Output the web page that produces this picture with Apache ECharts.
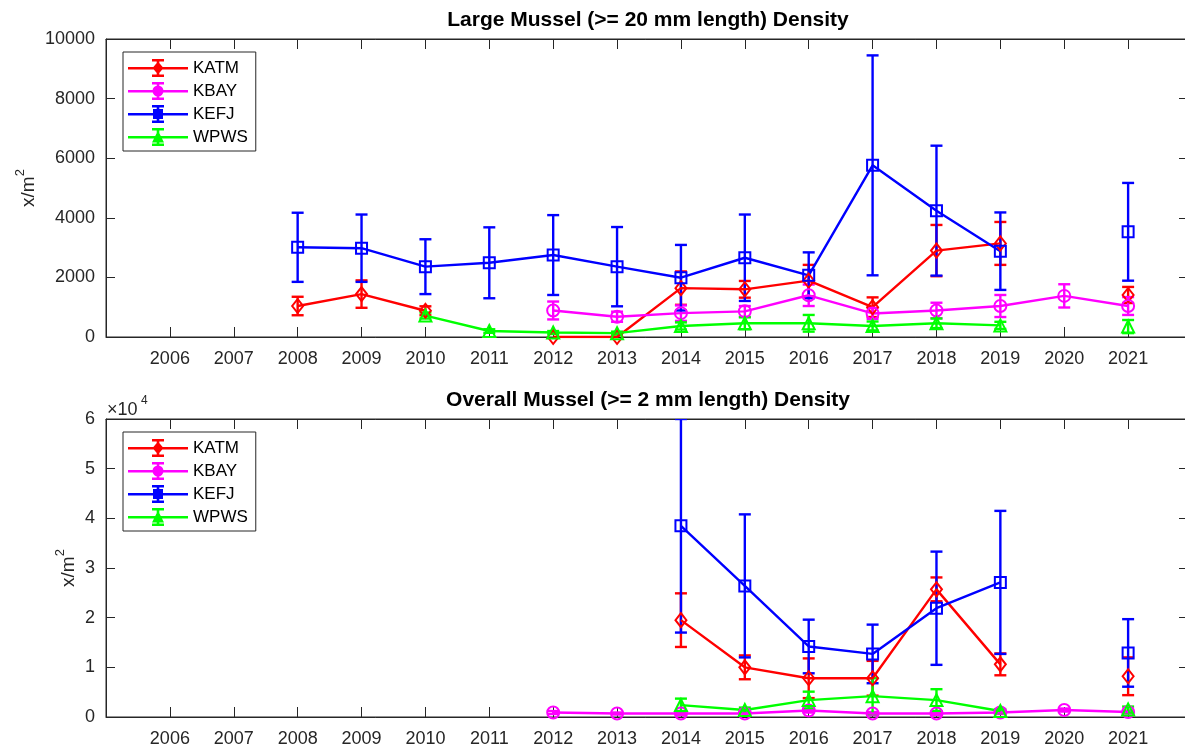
<!DOCTYPE html>
<html>
<head>
<meta charset="utf-8">
<title>Mussel Density</title>
<script src="https://cdn.jsdelivr.net/npm/echarts@6/dist/echarts.min.js"></script>
<style>
  html, body { margin: 0; padding: 0; background: #fff; }
  #main { width: 1185px; height: 750px; }
</style>
</head>
<body>
<div id="main"></div>
<script>
// years on the x axis, and the tick labels shown
const years = [2006, 2007, 2008, 2009, 2010, 2011, 2012, 2013, 2014, 2015, 2016, 2017, 2018, 2019, 2020, 2021]
const yearTicks = ['2006', '2007', '2008', '2009', '2010', '2011', '2012', '2013', '2014', '2015', '2016', '2017', '2018', '2019', '2020', '2021']
const sites = ['KATM', 'KBAY', 'KEFJ', 'WPWS']

// Large mussel (>= 20 mm) density, x/m2, with error bar half widths
const largeKATM = [null, null, 1040, 1440, 880, null, 0, 0, 1640, 1600, 1890, 1000, 2900, 3140, null, 1410]
const largeKATMErr = [null, null, 310, 460, 150, null, 0, 0, 560, 280, 530, 330, 860, 720, null, 270]
const largeKBAY = [null, null, null, null, null, null, 890, 680, 800, 860, 1400, 790, 890, 1040, 1380, 1040]
const largeKBAYErr = [null, null, null, null, null, null, 300, 170, 260, 180, 360, 180, 260, 370, 390, 300]
const largeKEFJ = [null, null, 3010, 2980, 2360, 2490, 2750, 2360, 1990, 2660, 2070, 5760, 4240, 2880, null, 3530]
const largeKEFJErr = [null, null, 1160, 1130, 920, 1190, 1340, 1330, 1100, 1450, 770, 3690, 2180, 1300, null, 1640]
const largeWPWS = [null, null, null, null, 720, 200, 150, 130, 370, 460, 460, 370, 460, 390, null, 350]
const largeWPWSErr = [null, null, null, null, 100, 60, 50, 50, 120, 200, 280, 150, 160, 120, null, 220]

// Overall mussel (>= 2 mm) density, x/m2
const allKATM = [null, null, null, null, null, null, null, null, 19500, 10000, 7800, 7800, 25700, 10600, null, 8200]
const allKATMErr = [null, null, null, null, null, null, null, null, 5400, 2400, 4000, 3500, 2400, 2200, null, 3800]
const allKBAY = [null, null, null, null, null, null, 900, 700, 700, 700, 1300, 700, 700, 900, 1400, 1000]
const allKBAYErr = [null, null, null, null, null, null, 300, 200, 300, 300, 400, 300, 300, 300, 300, 300]
const allKEFJ = [null, null, null, null, null, null, null, null, 38500, 26400, 14200, 12700, 21900, 27100, null, 12900]
const allKEFJErr = [null, null, null, null, null, null, null, null, 21500, 14400, 5400, 5900, 11400, 14400, null, 6800]
const allWPWS = [null, null, null, null, null, null, null, null, 2400, 1400, 3400, 4200, 3400, 1200, null, 1500]
const allWPWSErr = [null, null, null, null, null, null, null, null, 1300, 500, 1700, 3600, 2200, 400, null, 600]

const colors = { KATM: '#ff0000', KBAY: '#ff00ff', KEFJ: '#0000ff', WPWS: '#00ff00' }
const symbols = { KATM: 'diamond', KBAY: 'circle', KEFJ: 'rect', WPWS: 'triangle' }
const symbolSizes = { KATM: [11, 14], KBAY: 12, KEFJ: 11, WPWS: 12 }
const bar = 'M0 8H60V10.5H0Z M28.7 0H31.3V18H28.7Z M24 0H36V2.5H24Z M24 15.5H36V18H24Z '
const legendIcons = {
    KATM: 'path://' + bar + 'M30 2.5L35.5 9L30 15.5L24.5 9Z',
    KBAY: 'path://' + bar + 'M24.5 9A5.5 5.5 0 1 1 35.5 9A5.5 5.5 0 1 1 24.5 9Z',
    KEFJ: 'path://' + bar + 'M25 4H35V14H25Z',
    WPWS: 'path://' + bar + 'M30 2.5L36 14.5H24Z'
}
const axisColor = '#262626'
const font = 'Liberation Sans, Arial, Helvetica, sans-serif'

function errRender(params, api) {
    const x = api.value(0)
    const v = api.value(1)
    const e = api.value(2)
    if (isNaN(v) || !e) return
    const hi = api.coord([x, v + e])
    const lo = api.coord([x, v - e])
    const w = 6
    const style = { stroke: api.visual('color'), lineWidth: 2.4 }
    return {
        type: 'group',
        children: [
            { type: 'line', shape: { x1: hi[0], y1: hi[1], x2: lo[0], y2: lo[1] }, style },
            { type: 'line', shape: { x1: hi[0] - w, y1: hi[1], x2: hi[0] + w, y2: hi[1] }, style },
            { type: 'line', shape: { x1: lo[0] - w, y1: lo[1], x2: lo[0] + w, y2: lo[1] }, style }
        ]
    }
}

function siteSeries(g, name, vals, errs) {
    const color = colors[name]
    const pts = years.map((y, i) => [y, vals[i] == null ? '-' : vals[i]])
    const bars = []
    years.forEach((y, i) => { if (vals[i] != null) bars.push([y, vals[i], errs[i]]) })
    return [
        {
            type: 'custom', name, xAxisIndex: g * 2, yAxisIndex: g * 2,
            data: bars, renderItem: errRender, encode: { x: 0, y: 1 },
            itemStyle: { color }, clip: true, silent: true
        },
        {
            type: 'line', name, xAxisIndex: g * 2, yAxisIndex: g * 2,
            data: pts, symbol: symbols[name], symbolSize: symbolSizes[name],
            showSymbol: true, connectNulls: false, animation: false,
            lineStyle: { color, width: 2.4 },
            itemStyle: { color: 'rgba(255,255,255,0)', borderColor: color, borderWidth: 2 }
        }
    ]
}

function xAxes(g) {
    const base = {
        type: 'value', gridIndex: g, min: 2005, max: 2022, interval: 1,
        axisLine: { onZero: false, lineStyle: { color: axisColor, width: 1 } },
        axisTick: { inside: true, length: 10, lineStyle: { color: axisColor } },
        splitLine: { show: false }
    }
    return [
        Object.assign({}, base, {
            position: 'bottom',
            axisLabel: {
                fontSize: 18, color: axisColor, fontFamily: font, margin: 13,
                formatter: v => yearTicks.includes(String(v)) ? String(v) : ''
            }
        }),
        Object.assign({}, base, { position: 'top', axisLabel: { show: false } })
    ]
}

function yAxes(g, max, interval, fmt, nameGap) {
    const base = {
        type: 'value', gridIndex: g, min: 0, max, interval,
        axisLine: { show: true, onZero: false, lineStyle: { color: axisColor, width: 1 } },
        axisTick: { show: true, inside: true, length: 9, lineStyle: { color: axisColor } },
        splitLine: { show: false }
    }
    return [
        Object.assign({}, base, {
            position: 'left',
            name: '{b|x/m}{s|2}', nameLocation: 'middle', nameGap, nameRotate: 90,
            nameMoveOverlap: false,
            nameTextStyle: {
                color: axisColor, fontFamily: font,
                rich: {
                    b: { fontSize: 19, fontFamily: font, color: axisColor, verticalAlign: 'bottom', lineHeight: 24 },
                    s: { fontSize: 13, fontFamily: font, color: axisColor, verticalAlign: 'top', lineHeight: 24 }
                }
            },
            axisLabel: { fontSize: 18, color: axisColor, fontFamily: font, margin: 11, formatter: fmt }
        }),
        Object.assign({}, base, {
            position: 'right', axisLabel: { show: false },
            axisTick: { show: true, inside: true, length: 13, lineStyle: { color: axisColor } }
        })
    ]
}

function legend(top) {
    return {
        orient: 'vertical', left: 123, top,
        data: sites.map(s => ({ name: s, icon: legendIcons[s], itemStyle: { color: colors[s], borderWidth: 0 } })),
        itemWidth: 60, itemHeight: 18, itemGap: 5,
        padding: [7, 8, 5, 5],
        backgroundColor: '#fff', borderColor: axisColor, borderWidth: 1, borderRadius: 0,
        selectedMode: false,
        textStyle: { fontSize: 17, color: '#000', fontFamily: font }
    }
}

const chart = echarts.init(document.getElementById('main'), null, { renderer: 'canvas' })

const option = {
    animation: false,
    backgroundColor: '#fff',
    title: [
        {
            text: 'Large Mussel (>= 20 mm length) Density', left: 643, top: 5, textAlign: 'center',
            textStyle: { fontSize: 21, fontWeight: 'bold', color: '#000', fontFamily: font }
        },
        {
            text: 'Overall Mussel (>= 2 mm length) Density', left: 643, top: 385, textAlign: 'center',
            textStyle: { fontSize: 21, fontWeight: 'bold', color: '#000', fontFamily: font }
        }
    ],
    legend: [legend(52), legend(432)],
    grid: [
        { left: 106, right: -7, top: 39, height: 298, show: true, borderColor: axisColor, borderWidth: 1, outerBoundsMode: 'none', containLabel: false },
        { left: 106, right: -7, top: 419, height: 298, show: true, borderColor: axisColor, borderWidth: 1, outerBoundsMode: 'none', containLabel: false }
    ],
    xAxis: xAxes(0).concat(xAxes(1)),
    yAxis: yAxes(0, 10000, 2000, v => String(v), 68).concat(yAxes(1, 60000, 10000, v => String(v / 10000), 28)),
    graphic: [
        { type: 'text', left: 107, top: 401, style: { text: '×10', fontSize: 18, fill: axisColor, fontFamily: font } },
        { type: 'text', left: 141, top: 395, style: { text: '4', fontSize: 12, fill: axisColor, fontFamily: font } }
    ],
    series: [
        ...siteSeries(0, 'KATM', largeKATM, largeKATMErr),
        ...siteSeries(0, 'KBAY', largeKBAY, largeKBAYErr),
        ...siteSeries(0, 'KEFJ', largeKEFJ, largeKEFJErr),
        ...siteSeries(0, 'WPWS', largeWPWS, largeWPWSErr),
        ...siteSeries(1, 'KATM', allKATM, allKATMErr),
        ...siteSeries(1, 'KBAY', allKBAY, allKBAYErr),
        ...siteSeries(1, 'KEFJ', allKEFJ, allKEFJErr),
        ...siteSeries(1, 'WPWS', allWPWS, allWPWSErr)
    ]
}

chart.setOption(option)
</script>
</body>
</html>
